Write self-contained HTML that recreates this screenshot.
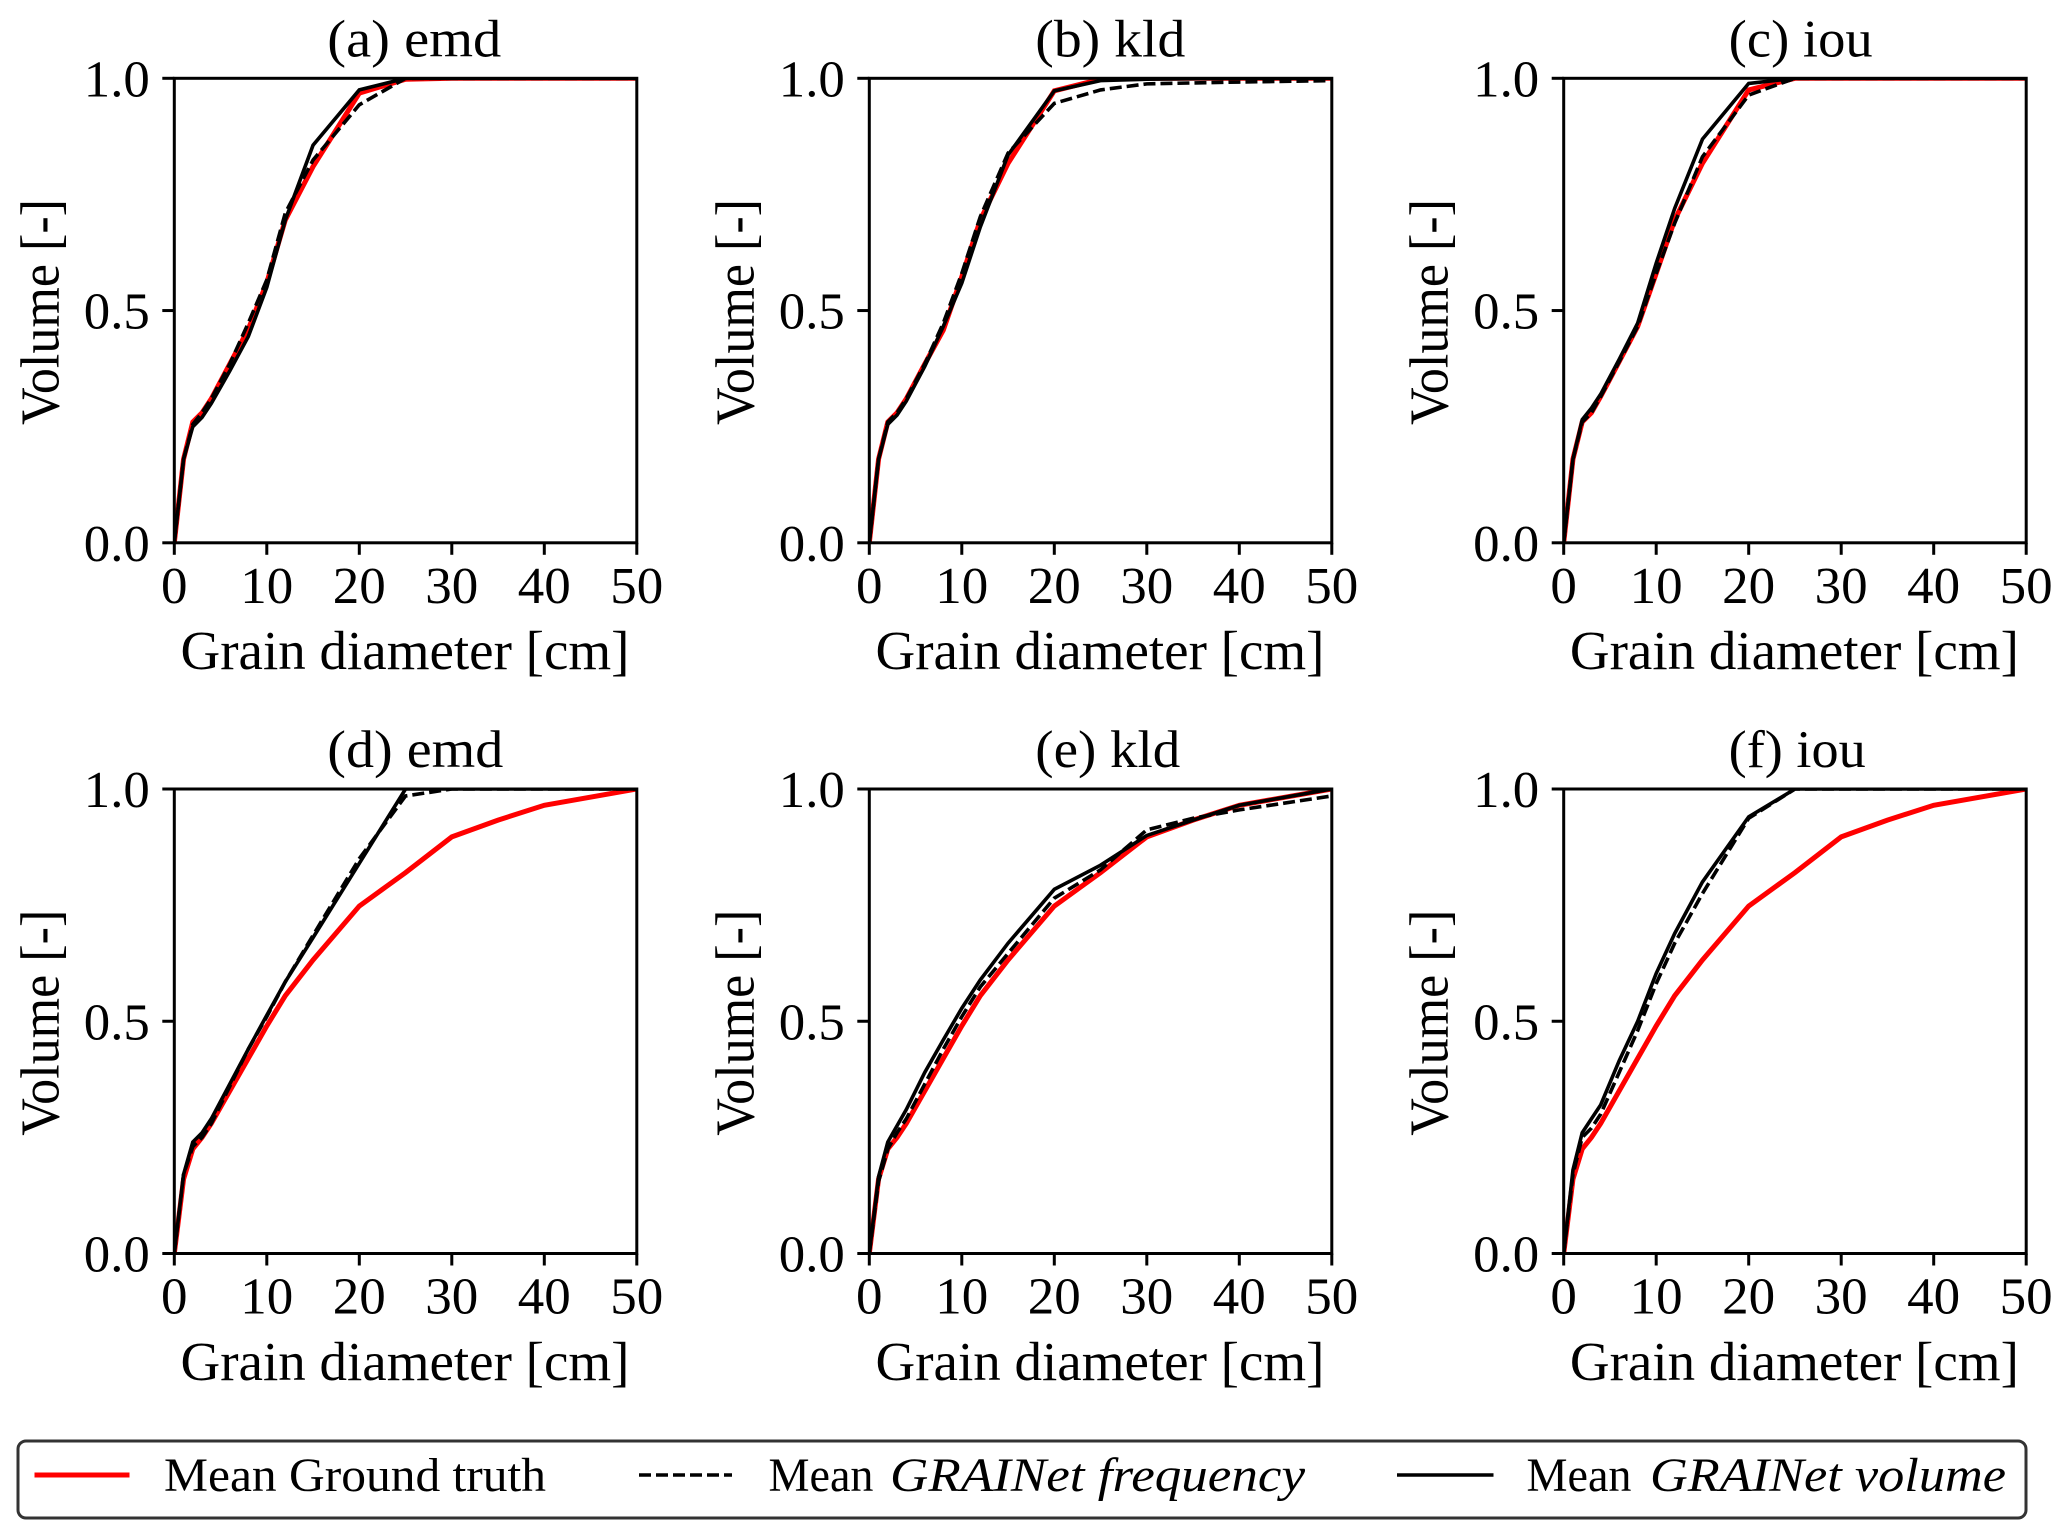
<!DOCTYPE html>
<html lang="en">
<head>
<meta charset="utf-8">
<title>Grain size distribution curves</title>
<style>
html,body{margin:0;padding:0;background:#fff;}
svg{display:block;}
text{font-family:"Liberation Serif",serif;fill:#000;}
</style>
</head>
<body>
<svg id="figure" xmlns="http://www.w3.org/2000/svg" width="2067" height="1538" viewBox="0 0 2067 1538">
  <rect x="0" y="0" width="2067" height="1538" fill="#fff"/>
  <g id="panels"></g>
  <g>
    <rect x="18" y="1441" width="2008" height="77" rx="8" ry="8" fill="#fff" stroke="#333" stroke-width="3"/>
    <line x1="34.5" y1="1475" x2="129.5" y2="1475" stroke="#f00" stroke-width="5"/>
    <text x="164" y="1491" font-size="48" textLength="382" lengthAdjust="spacingAndGlyphs">Mean Ground truth</text>
    <line x1="639" y1="1475" x2="732" y2="1475" stroke="#000" stroke-width="3.6" stroke-dasharray="12 5"/>
    <text x="768.5" y="1491" font-size="48" textLength="105" lengthAdjust="spacingAndGlyphs">Mean</text>
    <text x="890" y="1491" font-size="48" font-style="italic" textLength="415" lengthAdjust="spacingAndGlyphs">GRAINet frequency</text>
    <line x1="1397" y1="1475" x2="1493.5" y2="1475" stroke="#000" stroke-width="3.6"/>
    <text x="1526.5" y="1491" font-size="48" textLength="105" lengthAdjust="spacingAndGlyphs">Mean</text>
    <text x="1650" y="1491" font-size="48" font-style="italic" textLength="356" lengthAdjust="spacingAndGlyphs">GRAINet volume</text>
  </g>
</svg>
<script>
// ---- chart data ----
const diameters = [0, 1, 2, 3, 4, 6, 8, 10, 12, 15, 20, 25, 30, 35, 40, 50];
const xTickLabels = ["0", "10", "20", "30", "40", "50"];
const xTickValues = [0, 10, 20, 30, 40, 50];
const yTickLabels = ["0.0", "0.5", "1.0"];
const yTickValues = [0, 0.5, 1];
const panelTitles = ["(a) emd", "(b) kld", "(c) iou", "(d) emd", "(e) kld", "(f) iou"];

const truthA = [0, .18, .26, .28, .31, .385, .46, .56, .695, .81, .968, .998, 1, 1, 1, 1];
const freqA  = [0, .18, .255, .28, .31, .385, .473, .566, .71, .824, .943, 1, 1, 1, 1, 1];
const volA   = [0, .18, .25, .27, .30, .37, .444, .55, .695, .856, .975, 1, 1, 1, 1, 1];

const truthB = [0, .18, .26, .28, .31, .385, .458, .573, .695, .817, .973, .998, 1, 1, 1, 1];
const freqB  = [0, .18, .26, .28, .31, .385, .473, .58, .702, .839, .946, .975, .988, .99, .992, .995];
const volB   = [0, .18, .255, .275, .305, .38, .466, .559, .68, .835, .973, .995, .998, .999, 1, 1];

const truthC = [0, .18, .26, .28, .315, .39, .466, .58, .695, .817, .975, 1, 1, 1, 1, 1];
const freqC  = [0, .18, .26, .28, .315, .39, .466, .58, .688, .831, .964, 1, 1, 1, 1, 1];
const volC   = [0, .18, .265, .29, .32, .395, .473, .602, .72, .869, .989, 1, 1, 1, 1, 1];

const truthD = [0, .16, .225, .25, .28, .35, .42, .49, .555, .632, .748, .82, .897, .933, .965, 1];
const freqD  = [0, .17, .23, .25, .28, .36, .44, .51, .585, .685, .85, .985, 1, 1, 1, 1];
const volD   = [0, .17, .24, .26, .29, .365, .44, .513, .585, .68, .84, 1, 1, 1, 1, 1];

const truthE = [0, .16, .225, .25, .28, .35, .42, .49, .555, .632, .748, .82, .897, .933, .965, 1];
const freqE  = [0, .155, .225, .26, .29, .365, .44, .51, .574, .646, .765, .826, .912, .937, .955, .985];
const volE   = [0, .165, .24, .275, .31, .39, .46, .528, .589, .668, .784, .836, .90, .933, .965, 1];

const truthF = [0, .16, .225, .25, .28, .35, .42, .49, .555, .632, .748, .82, .897, .933, .965, 1];
const freqF  = [0, .17, .25, .27, .30, .39, .48, .581, .668, .775, .937, 1, 1, 1, 1, 1];
const volF   = [0, .18, .26, .29, .32, .415, .50, .603, .689, .80, .94, 1, 1, 1, 1, 1];

const truthSeries = [truthA, truthB, truthC, truthD, truthE, truthF];
const freqSeries = [freqA, freqB, freqC, freqD, freqE, freqF];
const volSeries = [volA, volB, volC, volD, volE, volF];

// ---- layout (not data) ----
const colLeft = [174.3, 869.3, 1563.7];
const rowTop = [78.3, 789];
const plotW = 462.5;
const plotH = 464.5;
const xMax = 50;
const titleStart = [153, 166, 165, 153, 166, 165];
const titleWidth = [174, 150, 144, 176, 145, 137];
const titleLetters = ["a", "b", "c", "d", "e", "f"];

const NS = "http://www.w3.org/2000/svg";
const panelsRoot = document.getElementById("panels");

function make(parent, tag, attrs, content) {
  const node = document.createElementNS(NS, tag);
  Object.keys(attrs).forEach(function (k) { node.setAttribute(k, attrs[k]); });
  if (content !== undefined) node.textContent = content;
  parent.appendChild(node);
  return node;
}

function drawPanel(i) {
  const left = colLeft[i % 3];
  const top = rowTop[Math.floor(i / 3)];
  const bottom = top + plotH;
  const scaleX = function (v) { return left + (v / xMax) * plotW; };
  const scaleY = function (v) { return bottom - v * plotH; };
  const letter = titleLetters[i];

  const g = make(panelsRoot, "g", {});
  
  

  const clip = make(g, "clipPath", { id: "clip-" + letter });
  make(clip, "rect", { x: left, y: top, width: plotW, height: plotH });

  const linePoints = function (values) {
    return diameters.map(function (d, k) {
      return scaleX(d).toFixed(2) + "," + scaleY(values[k]).toFixed(2);
    }).join(" ");
  };

  const truth = make(g, "polyline", { points: linePoints(truthSeries[i]), fill: "none", stroke: "#f00", "stroke-width": 5, "stroke-linejoin": "miter", "clip-path": "url(#clip-" + letter + ")" });
  
  

  const freq = make(g, "polyline", { points: linePoints(freqSeries[i]), fill: "none", stroke: "#000", "stroke-width": 3.6, "stroke-dasharray": "12 5", "clip-path": "url(#clip-" + letter + ")" });
  
  

  const vol = make(g, "polyline", { points: linePoints(volSeries[i]), fill: "none", stroke: "#000", "stroke-width": 3.6, "clip-path": "url(#clip-" + letter + ")" });
  
  

  const frame = make(g, "rect", { x: left, y: top, width: plotW, height: plotH, fill: "none", stroke: "#000", "stroke-width": 3 });
  
  

  xTickValues.forEach(function (v, k) {
    const tick = make(g, "line", { x1: scaleX(v), x2: scaleX(v), y1: bottom, y2: bottom + 12, stroke: "#000", "stroke-width": 3 });
    
    
    const label = make(g, "text", { x: scaleX(v), y: bottom + 60, "font-size": 52, "text-anchor": "middle", textLength: 26.5 * xTickLabels[k].length, lengthAdjust: "spacingAndGlyphs" }, xTickLabels[k]);
    
    
  });

  yTickValues.forEach(function (v, k) {
    const tick = make(g, "line", { x1: left - 12, x2: left, y1: scaleY(v), y2: scaleY(v), stroke: "#000", "stroke-width": 3 });
    
    
    const label = make(g, "text", { x: left - 24.5, y: scaleY(v) + 18, "font-size": 52, "text-anchor": "end", textLength: 66, lengthAdjust: "spacingAndGlyphs" }, yTickLabels[k]);
    
    
  });

  const title = make(g, "text", { x: left + titleStart[i], y: top - 22, "font-size": 53, textLength: titleWidth[i], lengthAdjust: "spacingAndGlyphs" }, panelTitles[i]);
  
  

  const xTitle = make(g, "text", { x: left + 6.2, y: bottom + 126.3, "font-size": 55, textLength: 449, lengthAdjust: "spacingAndGlyphs" }, "Grain diameter [cm]");
  
  

  const yx = left - 116;
  const yy = top + 233.7 + 113;
  const yTitle = make(g, "text", { x: yx, y: yy, "font-size": 55, textLength: 226, lengthAdjust: "spacingAndGlyphs", transform: "rotate(-90 " + yx + " " + yy + ")" }, "Volume [-]");
  
  
}

for (let p = 0; p < panelTitles.length; p++) {
  drawPanel(p);
}
</script>
</body>
</html>
